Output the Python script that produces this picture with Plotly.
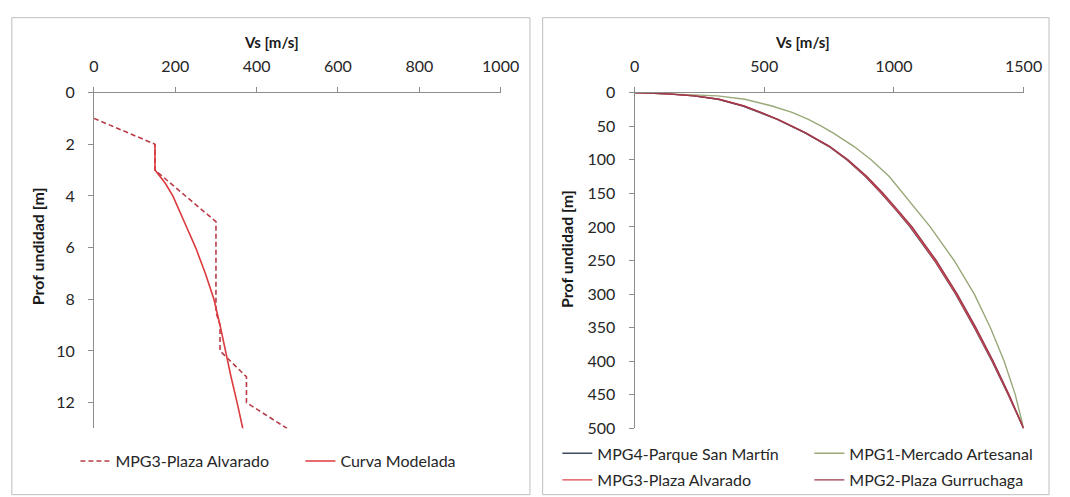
import plotly.graph_objects as go

W, H = 1070, 497

# ---- Left panel data (MPG3-Plaza Alvarado) ----
mpg3_step_vs = [0, 150, 150, 300, 300, 310, 310, 375, 375, 475]
mpg3_step_depth = [1, 2, 3, 5, 8.5, 9, 10, 11, 12, 13]

model_vs = [150, 150, 175, 194, 222, 250, 274, 295, 310, 323, 337, 352, 366]
model_depth = [2, 3, 3.5, 4, 5, 6, 7, 8, 9, 10, 11, 12, 13]

# ---- Right panel data ----
depth_r = [0, 2, 5, 10, 20, 30, 40, 50, 60, 80, 100, 125, 150, 175, 200, 250, 300, 350, 400, 450, 500]
vs_mpg4 = [0, 125, 228, 322, 418, 488, 550, 604, 657, 748, 818, 890, 951, 1008, 1062, 1156, 1238, 1310, 1378, 1441, 1500]
vs_mpg1 = [0, 150, 320, 425, 530, 610, 670, 720, 765, 845, 912, 982, 1035, 1087, 1140, 1232, 1310, 1372, 1425, 1468, 1500]
vs_mpg3 = [0, 130, 233, 327, 423, 492, 553, 607, 660, 750, 820, 892, 953, 1010, 1065, 1158, 1240, 1312, 1380, 1442, 1500]
vs_mpg2 = [0, 128, 230, 324, 420, 490, 551, 606, 659, 752, 823, 896, 958, 1015, 1070, 1163, 1244, 1316, 1383, 1444, 1500]

left_xticks = [0, 200, 400, 600, 800, 1000]
left_yticks = [0, 2, 4, 6, 8, 10, 12]
right_xticks = [0, 500, 1000, 1500]
right_yticks = [0, 50, 100, 150, 200, 250, 300, 350, 400, 450, 500]

FONT = "Lato"
TXT = "#262626"
AX = "#8c8c8c"

def px_x(p):
    return p / W

def px_y(p):
    return 1 - p / H

fig = go.Figure()

fig.add_trace(go.Scatter(x=mpg3_step_vs, y=mpg3_step_depth, mode="lines",
                         name="MPG3-Plaza Alvarado",
                         line=dict(color="#b83c48", width=1.6, dash="5px,3px"),
                         xaxis="x", yaxis="y", legend="legend"))
fig.add_trace(go.Scatter(x=model_vs, y=model_depth, mode="lines",
                         name="Curva Modelada",
                         line=dict(color="#dc3a3e", width=1.6),
                         xaxis="x", yaxis="y", legend="legend"))

fig.add_trace(go.Scatter(x=vs_mpg4, y=depth_r, mode="lines", name="MPG4-Parque San Martín",
                         line=dict(color="#3f4b5e", width=1.4),
                         xaxis="x2", yaxis="y2", legend="legend2"))
fig.add_trace(go.Scatter(x=vs_mpg1, y=depth_r, mode="lines", name="MPG1-Mercado Artesanal",
                         line=dict(color="#98a878", width=1.4),
                         xaxis="x2", yaxis="y2", legend="legend2"))
fig.add_trace(go.Scatter(x=vs_mpg3, y=depth_r, mode="lines", name="MPG3-Plaza Alvarado",
                         line=dict(color="#e2444e", width=1.4),
                         xaxis="x2", yaxis="y2", legend="legend3"))
fig.add_trace(go.Scatter(x=vs_mpg2, y=depth_r, mode="lines", name="MPG2-Plaza Gurruchaga",
                         line=dict(color="#9a3a4c", width=1.4),
                         xaxis="x2", yaxis="y2", legend="legend3"))

axis_common = dict(showgrid=False, zeroline=False, showline=True, linecolor=AX, linewidth=1,
                   ticks="outside", ticklen=5, tickcolor=AX, tickwidth=1,
                   tickfont=dict(family=FONT, size=16, color=TXT))

ydom = [px_y(436), px_y(86)]

fig.update_layout(
    width=W, height=H,
    margin=dict(l=0, r=0, t=0, b=0),
    paper_bgcolor="white", plot_bgcolor="white",
    font=dict(family=FONT, color=TXT),
    xaxis=dict(domain=[px_x(91), px_x(507)], range=[0, 1000], side="top",
               tickvals=left_xticks, anchor="y", ticklabelstandoff=8, **axis_common),
    yaxis=dict(domain=ydom, range=[13, 0], tickvals=left_yticks, anchor="x",
               ticklabelstandoff=10, **axis_common),
    xaxis2=dict(domain=[px_x(644), px_x(1042)], range=[0, 1500], side="top",
                tickvals=right_xticks, anchor="y2", ticklabelstandoff=8, **axis_common),
    yaxis2=dict(domain=ydom, range=[500, 0], tickvals=right_yticks, anchor="x2",
                ticklabelstandoff=10, **axis_common),
    legend=dict(orientation="h", x=px_x(72), y=px_y(470), yanchor="middle", xanchor="left",
                font=dict(family=FONT, size=16, color=TXT), bgcolor="rgba(0,0,0,0)",
                itemwidth=30, entrywidth=180),
    legend2=dict(orientation="h", x=px_x(565), y=px_y(462), yanchor="middle", xanchor="left",
                 font=dict(family=FONT, size=16, color=TXT), bgcolor="rgba(0,0,0,0)",
                 itemwidth=30, entrywidth=207),
    legend3=dict(orientation="h", x=px_x(565), y=px_y(490), yanchor="middle", xanchor="left",
                 font=dict(family=FONT, size=16, color=TXT), bgcolor="rgba(0,0,0,0)",
                 itemwidth=30, entrywidth=207),
    showlegend=True,
)

# panel borders
fig.add_shape(type="rect", xref="paper", yref="paper",
              x0=px_x(7), x1=px_x(537), y0=px_y(505), y1=px_y(8),
              line=dict(color="#bdbdbd", width=1), fillcolor="rgba(0,0,0,0)", layer="below")
fig.add_shape(type="rect", xref="paper", yref="paper",
              x0=px_x(550), x1=px_x(1068), y0=px_y(505), y1=px_y(8),
              line=dict(color="#bdbdbd", width=1), fillcolor="rgba(0,0,0,0)", layer="below")

title_font = dict(family=FONT, size=15, color="#1a1a1a")
ytitle_font = dict(family=FONT, size=16, color="#1a1a1a")
fig.add_annotation(text="<b>Vs [m/s]</b>", xref="paper", yref="paper",
                   x=px_x(273), y=px_y(33), showarrow=False, font=title_font,
                   xanchor="center", yanchor="middle")
fig.add_annotation(text="<b>Vs [m/s]</b>", xref="paper", yref="paper",
                   x=px_x(816), y=px_y(33), showarrow=False, font=title_font,
                   xanchor="center", yanchor="middle")
fig.add_annotation(text="<b>Prof undidad [m]</b>", xref="paper", yref="paper",
                   x=px_x(33), y=px_y(246), showarrow=False, font=ytitle_font,
                   textangle=-90, xanchor="center", yanchor="middle")
fig.add_annotation(text="<b>Prof undidad [m]</b>", xref="paper", yref="paper",
                   x=px_x(575), y=px_y(249), showarrow=False, font=ytitle_font,
                   textangle=-90, xanchor="center", yanchor="middle")

fig.write_html(
    "out.html",
    config={"displayModeBar": False},
    post_script="document.documentElement.style.margin='0';document.body.style.margin='0';"
                "document.body.style.padding='0';document.documentElement.style.overflow='hidden';"
                "document.body.style.overflow='hidden';",
)
